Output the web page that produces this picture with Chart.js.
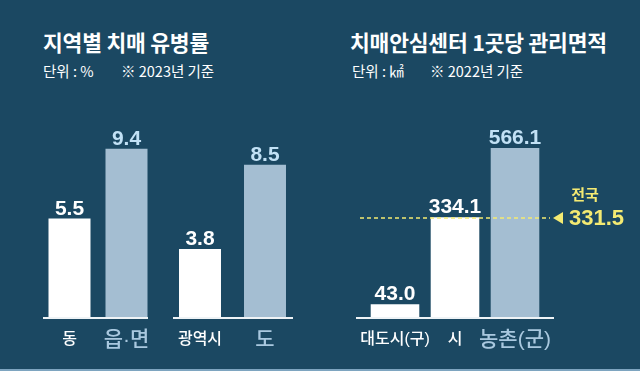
<!DOCTYPE html>
<html><head><meta charset="utf-8">
<script src="https://cdn.jsdelivr.net/npm/chart.js@4.4.1/dist/chart.umd.min.js"></script>
<style>
html,body{margin:0;padding:0;background:#1b4862;}
#wrap{position:relative;width:640px;height:371px;background:#1b4862;overflow:hidden;font-family:"Noto Sans CJK KR",sans-serif;color:#fff;}
canvas{position:absolute;left:0;top:0;}
.t{position:absolute;white-space:nowrap;}
.title{font-size:21.5px;font-weight:700;top:26px;letter-spacing:-0.2px;}
.sub{font-size:14.5px;top:60px;}
#bottomline{position:absolute;left:0;top:369px;width:640px;height:2px;background:#7ea5c0;}
</style></head>
<body>
<div id="wrap">
  <div class="t title" style="left:43px">지역별 치매 유병률</div>
  <div class="t sub" style="left:43px">단위 : %</div>
  <div class="t sub" style="left:121px">※ 2023년 기준</div>
  <div class="t title" style="left:350px">치매안심센터 1곳당 관리면적</div>
  <div class="t sub" style="left:352px">단위 : ㎢</div>
  <div class="t sub" style="left:430px">※ 2022년 기준</div>
  <canvas id="c1" width="640" height="371"></canvas>
  <canvas id="c2" width="640" height="371"></canvas>
  <canvas id="c3" width="640" height="371"></canvas>
  <div id="bottomline"></div>
</div>
<script>
// ---- data ----
const areaCategories = ['동', '읍·면'];
const areaPrevalence = [5.5, 9.4];
const regionCategories = ['광역시', '도'];
const regionPrevalence = [3.8, 8.5];
const centerCategories = ['대도시(구)', '시', '농촌(군)'];
const centerArea = [43.0, 334.1, 566.1];
const nationalAvg = 331.5;
const nationalLabel = '전국';

// ---- styles ----
const WHITE = '#ffffff';
const BLUE = '#a4bed2';
const BLUE_TEXT = '#c2e1f5';
const BLUE_CAT = '#a9c8df';
const YELLOW = '#f4ea72';
const NUM_FONT = '"Liberation Sans", Arial, sans-serif';
const CAT_FONT = '"Liberation Sans", "Noto Sans CJK KR", sans-serif';
const KR_FONT = '"Noto Sans CJK KR", sans-serif';

const decoPlugin = {
  id: 'deco',
  afterDatasetsDraw(chart, args, opts) {
    const ctx = chart.ctx;
    const ca = chart.chartArea;
    const y0 = chart.scales.y.getPixelForValue(0);
    // baseline
    ctx.save();
    ctx.strokeStyle = '#eef3f6';
    ctx.lineWidth = 2;
    ctx.beginPath();
    ctx.moveTo(ca.left + opts.extL, y0 + 1);
    ctx.lineTo(ca.right + opts.extR, y0 + 1);
    ctx.stroke();
    // value labels + category labels
    const meta = chart.getDatasetMeta(0);
    const data = chart.data.datasets[0].data;
    const labels = chart.data.labels;
    meta.data.forEach((bar, i) => {
      const big = opts.bigCats[i];
      ctx.fillStyle = big ? BLUE_TEXT : WHITE;
      ctx.font = 'bold 21px ' + NUM_FONT;
      ctx.textAlign = 'center';
      ctx.textBaseline = 'alphabetic';
      ctx.fillText(data[i].toFixed(1), bar.x, bar.y - 4);
      ctx.fillStyle = big ? BLUE_CAT : WHITE;
      ctx.font = (big ? '500 21px ' : '500 16px ') + CAT_FONT;
      ctx.textBaseline = 'middle';
      ctx.fillText(labels[i], bar.x, y0 + 23);
    });
    ctx.restore();
  }
};

const avgPlugin = {
  id: 'avgLine',
  afterDatasetsDraw(chart) {
    const ctx = chart.ctx;
    const ca = chart.chartArea;
    const y = chart.scales.y.getPixelForValue(nationalAvg);
    ctx.save();
    ctx.strokeStyle = YELLOW;
    ctx.lineWidth = 1.5;
    ctx.setLineDash([4, 3]);
    ctx.beginPath();
    ctx.moveTo(ca.left - 5, y);
    ctx.lineTo(ca.right + 5, y);
    ctx.stroke();
    ctx.setLineDash([]);
    ctx.fillStyle = YELLOW;
    ctx.beginPath();
    ctx.moveTo(ca.right + 8, y);
    ctx.lineTo(ca.right + 18, y - 6);
    ctx.lineTo(ca.right + 18, y + 6);
    ctx.closePath();
    ctx.fill();
    ctx.textAlign = 'left';
    ctx.textBaseline = 'middle';
    ctx.font = 'bold 22px ' + NUM_FONT;
    ctx.fillText(nationalAvg.toFixed(1), ca.right + 24, y + 1);
    ctx.textAlign = 'center';
    ctx.font = 'bold 15px ' + KR_FONT;
    ctx.fillText(nationalLabel, ca.right + 40, y - 24);
    ctx.restore();
  }
};

function makeChart(id, labels, values, colors, pad, barPct, yMax, deco, extra) {
  return new Chart(document.getElementById(id), {
    type: 'bar',
    data: {
      labels: labels,
      datasets: [{ data: values, backgroundColor: colors, borderWidth: 0, barPercentage: barPct, categoryPercentage: 1 }]
    },
    options: {
      responsive: false,
      animation: false,
      devicePixelRatio: 1,
      events: [],
      layout: { padding: pad },
      scales: {
        x: { display: false },
        y: { display: false, min: 0, max: yMax }
      },
      plugins: { legend: { display: false }, tooltip: { enabled: false }, deco: deco }
    },
    plugins: [decoPlugin].concat(extra || [])
  });
}

makeChart('c1', areaCategories, areaPrevalence, [WHITE, BLUE],
  { left: 41, right: 485, top: 138, bottom: 54 }, 0.737, 10,
  { extL: 2, extR: -7, bigCats: [false, true] });
makeChart('c2', regionCategories, regionPrevalence, [WHITE, BLUE],
  { left: 167.5, right: 342.5, top: 138, bottom: 54 }, 0.646, 10,
  { extL: 5.5, extR: -4.5, bigCats: [false, true] });
makeChart('c3', centerCategories, centerArea, [WHITE, WHITE, BLUE],
  { left: 365, right: 95, top: 138, bottom: 54 }, 0.81, 600,
  { extL: -9, extR: 9, bigCats: [false, false, true] }, [avgPlugin]);
</script>
</body></html>
